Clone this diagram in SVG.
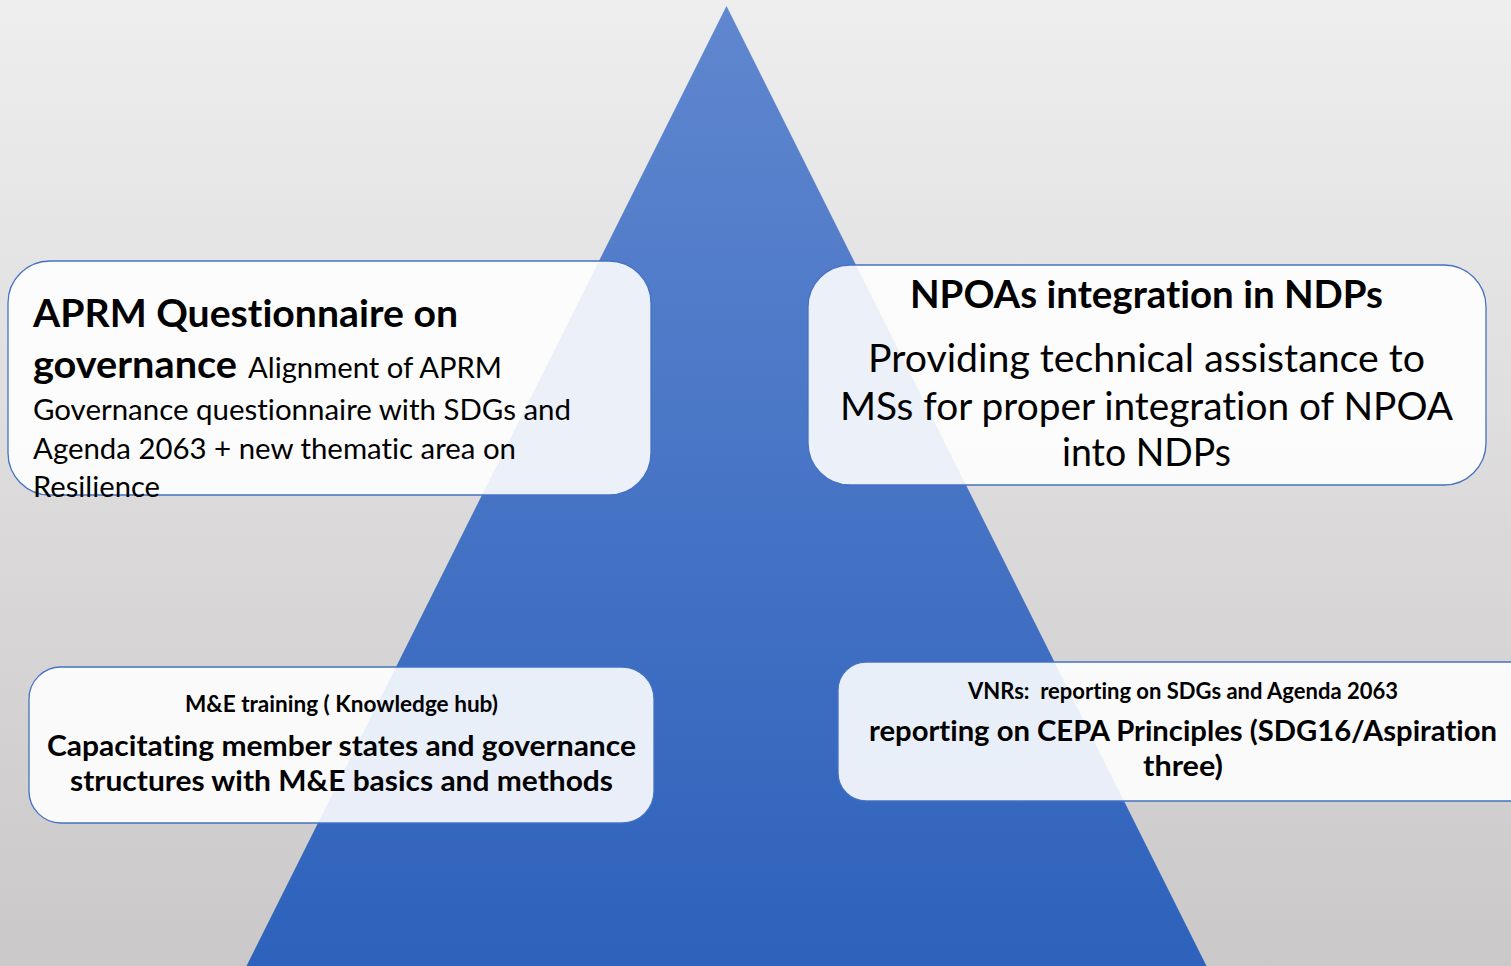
<svg xmlns="http://www.w3.org/2000/svg" width="1511" height="966" viewBox="0 0 1511 966">
<defs>
<linearGradient id="bg" x1="0" y1="0" x2="0" y2="1">
<stop offset="0" stop-color="#efeeee"/>
<stop offset="1" stop-color="#cac8c9"/>
</linearGradient>
<linearGradient id="tri" x1="0" y1="0" x2="0" y2="1">
<stop offset="0" stop-color="#6087cf"/>
<stop offset="1" stop-color="#2d61bb"/>
</linearGradient>
<style>
.box{fill:#ffffff;fill-opacity:0.89;stroke:#4472c4;stroke-width:1.3}
text{font-family:Lato,"Open Sans","Liberation Sans",sans-serif;fill:#000;font-variant-ligatures:none;font-feature-settings:"liga" 0,"clig" 0,"calt" 0,"dlig" 0}
.b{font-weight:bold}
.c{text-anchor:middle}
</style>
</defs>
<rect width="1511" height="966" fill="url(#bg)"/>
<polygon points="726.5,6 1212,977 241,977" fill="url(#tri)"/>
<g id="node-aprm">
<rect class="box" x="8" y="261" width="643" height="234" rx="42"/>
<text class="b" x="33" y="327" font-size="38" textLength="425" lengthAdjust="spacingAndGlyphs">APRM Questionnaire on</text>
<text y="378"><tspan class="b" x="33" font-size="38" textLength="204" lengthAdjust="spacingAndGlyphs">governance</tspan><tspan x="248" font-size="29" textLength="254" lengthAdjust="spacingAndGlyphs">Alignment of APRM</tspan></text>
<text x="33" y="420" font-size="29" textLength="538" lengthAdjust="spacingAndGlyphs">Governance questionnaire with SDGs and</text>
<text x="33" y="459" font-size="29" textLength="483" lengthAdjust="spacingAndGlyphs">Agenda 2063 + new thematic area on</text>
<text x="33" y="497" font-size="29" textLength="127" lengthAdjust="spacingAndGlyphs">Resilience</text>
</g>
<g id="node-npoa">
<rect class="box" x="808" y="265" width="678" height="220" rx="42"/>
<text class="b" x="910" y="308" font-size="38" textLength="473" lengthAdjust="spacingAndGlyphs">NPOAs integration in NDPs</text>
<text x="868" y="372" font-size="38" textLength="557" lengthAdjust="spacingAndGlyphs">Providing technical assistance to</text>
<text x="840" y="420" font-size="38" textLength="613" lengthAdjust="spacingAndGlyphs">MSs for proper integration of NPOA</text>
<text x="1062" y="466" font-size="38" textLength="169" lengthAdjust="spacingAndGlyphs">into NDPs</text>
</g>
<g id="node-me">
<rect class="box" x="29" y="667" width="625" height="156" rx="32"/>
<text class="b" x="185" y="712" font-size="22" textLength="313" lengthAdjust="spacingAndGlyphs">M&amp;E training ( Knowledge hub)</text>
<text class="b" x="47" y="756" font-size="29" textLength="589" lengthAdjust="spacingAndGlyphs">Capacitating member states and governance</text>
<text class="b" x="70" y="791" font-size="29" textLength="543" lengthAdjust="spacingAndGlyphs">structures with M&amp;E basics and methods</text>
</g>
<g id="node-vnr">
<rect class="box" x="838" y="662" width="700" height="139" rx="28"/>
<text class="b" x="968" y="699" font-size="22" textLength="430" lengthAdjust="spacingAndGlyphs" xml:space="preserve">VNRs:  reporting on SDGs and Agenda 2063</text>
<text class="b" x="869" y="741" font-size="29" textLength="628" lengthAdjust="spacingAndGlyphs">reporting on CEPA Principles (SDG16/Aspiration</text>
<text class="b" x="1143" y="776" font-size="29" textLength="80" lengthAdjust="spacingAndGlyphs">three)</text>
</g>
<g id="connectors"/>
</svg>
